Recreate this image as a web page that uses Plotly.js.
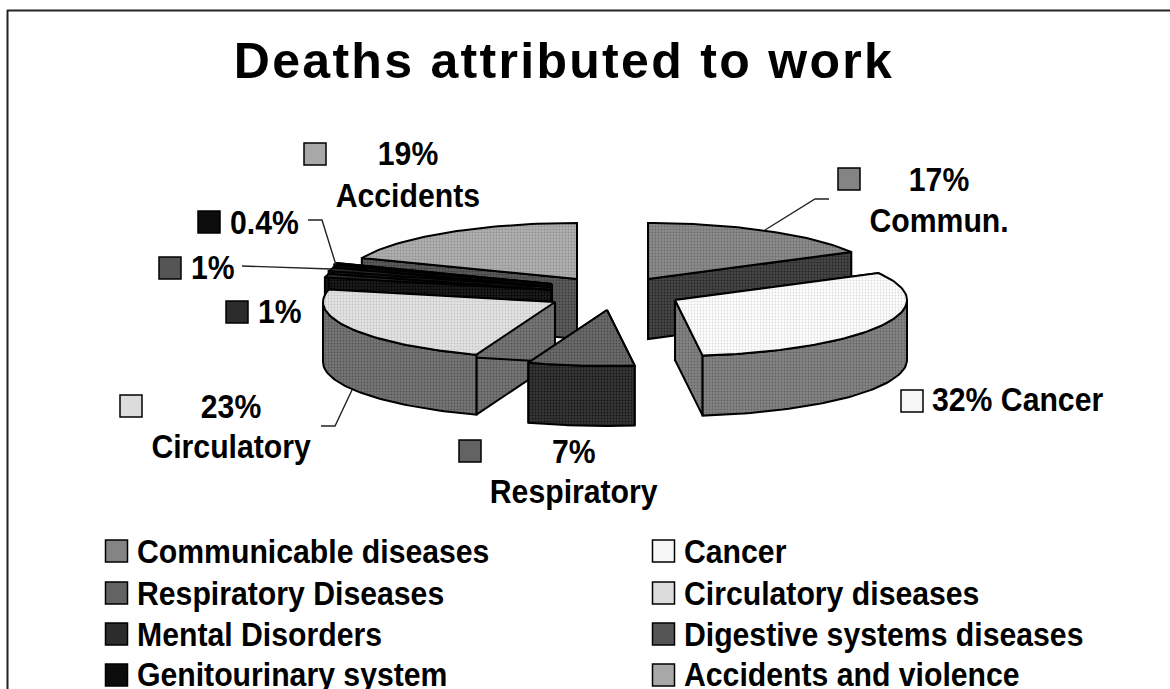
<!DOCTYPE html>
<html><head><meta charset="utf-8">
<script src="https://cdn.plot.ly/plotly-3.0.1.min.js"></script>
<style>html,body{margin:0;padding:0;background:#fff}.gtitle{letter-spacing:2.3px}</style>
</head><body><div id="chart" style="width:1170px;height:689px"></div>
<script>
// ---- data ----
const categories = ["Communicable diseases","Cancer","Respiratory Diseases","Circulatory diseases","Mental Disorders","Digestive systems diseases","Genitourinary system","Accidents and violence"];
const shortNames = ["Commun.","Cancer","Respiratory","Circulatory","","","","Accidents"];
const shares = [17,31.1,7.4,23.1,1,1,0.5,18.9];
const shareLabels = ["17%","32%","7%","23%","1%","1%","0.4%","19%"];
// ---- styling ----
const topColors  = ["#848484","#f6f6f6","#636363","#dcdcdc","#2c2c2c","#2c2c2c","#0c0c0c","#a8a8a8"];
const sideColors = ["#3e3e3e","#7c7c7c","#2e2e2e","#6e6e6e","#141414","#141414","#050505","#545454"];
const swatchColors = ["#848484","#f6f6f6","#636363","#dcdcdc","#2c2c2c","#555555","#0c0c0c","#a8a8a8"];
function shade(hex,d){const v=Math.max(0,Math.min(255,parseInt(hex.slice(1,3),16)+d)).toString(16).padStart(2,"0");return "#"+v+v+v;}
// ---- layout: exploded slice centres, projected ellipse, depth ----
const centres = [[648,279],[675,300],[607,310],[555,302],[551,290],[551,287],[552,284],[577,279]];
const RX=232, RY=56, DEPTH=60;
const drawOrder=[7,6,5,4,3,0,1,2];
const total=shares.reduce((a,b)=>a+b,0);
function pt(c,a,dz){return [c[0]+RX*Math.sin(a), c[1]-RY*Math.cos(a)+(dz||0)];}
const traces=[];
function poly(pts,fill,name){
  const closed=pts.concat([pts[0]]);
  traces.push({type:"scatter",mode:"lines",x:closed.map(p=>p[0]),y:closed.map(p=>p[1]),fill:"toself",fillcolor:fill,
    fillpattern:{shape:".",bgcolor:shade(fill,8),fgcolor:shade(fill,-24),size:3,solidity:0.3},
    line:{color:"#000",width:2,shape:"linear"},name:name,hoverinfo:"name",showlegend:false});
}
let acc=0;const spans=shares.map(s=>{const a0=acc/total*2*Math.PI;acc+=s;return [a0,acc/total*2*Math.PI];});
drawOrder.forEach(i=>{
  const c=centres[i],[a0,a1]=spans[i],n=categories[i];
  [a0,a1].forEach(a=>{const e=pt(c,a);poly([c,e,[e[0],e[1]+DEPTH],[c[0],c[1]+DEPTH]],sideColors[i],n);});
  const lo=Math.max(a0,Math.PI/2),hi=Math.min(a1,1.5*Math.PI);
  if(hi>lo){const up=[],dn=[];const N=48;
    for(let k=0;k<=N;k++){const a=lo+(hi-lo)*k/N;up.push(pt(c,a));dn.unshift(pt(c,a,DEPTH));}
    poly(up.concat(dn),sideColors[i],n);}
  const arc=[c];const N=Math.max(8,Math.round((a1-a0)*40));
  for(let k=0;k<=N;k++)arc.push(pt(c,a0+(a1-a0)*k/N));
  poly(arc,topColors[i],n);
});
// leader lines
const leaders=[[[308,220],[322,220],[336,265]],[[242,266],[331,269]],[[321,426],[335,426],[352,390]],[[765,230],[815,199],[829,199]]];
leaders.forEach(l=>traces.push({type:"scatter",mode:"lines",x:l.map(p=>p[0]),y:l.map(p=>p[1]),line:{color:"#222",width:1.4},hoverinfo:"skip",showlegend:false}));
// swatches
const labelSwatchX=[849,912,470,131,237,170,209,315];
const labelSwatchY=[179,401,451,406,312,268,222,154];
const legendSwatchX=[116.5,663.5,116.5,663.5,116.5,663.5,116.5,663.5];
const legendSwatchY=[551,551,593,593,634,634,675,675];
traces.push({type:"scatter",mode:"markers",x:labelSwatchX.concat(legendSwatchX),y:labelSwatchY.concat(legendSwatchY),
  marker:{symbol:"square",size:22,color:swatchColors.concat(swatchColors),line:{color:"#000",width:1.5}},
  text:categories.concat(categories),hoverinfo:"text",showlegend:false});
const F="'Liberation Sans',Arial,sans-serif";
const NARROW=0.915;
const ann=[];
function txt(s,x,y,anchor){ann.push({text:s,x:x,y:y,xref:"x",yref:"y",showarrow:false,xanchor:anchor,yanchor:"middle",font:{family:F,size:33,weight:700,color:"#000"}});}
txt(shareLabels[0],939,179,"center");txt(shortNames[0],939,220,"center");
txt(shareLabels[1]+" "+shortNames[1],930,399,"left");
txt(shareLabels[2],574,451,"center");txt(shortNames[2],574,491,"center");
txt(shareLabels[3],231,406,"center");txt(shortNames[3],231,446,"center");
txt(shareLabels[4],256,311,"left");txt(shareLabels[5],189,267,"left");txt(shareLabels[6],228,222,"left");
txt(shareLabels[7],408,153,"center");txt(shortNames[7],408,195,"center");
categories.forEach((c,i)=>txt(c,i%2?682:135,[551,551,593,593,634,634,674,674][i],"left"));
Plotly.newPlot("chart",traces,{
  width:1170,height:689,margin:{l:0,r:0,t:0,b:0},paper_bgcolor:"#fff",plot_bgcolor:"#fff",showlegend:false,
  title:{text:"Deaths attributed to work",x:0.482,xanchor:"center",y:0.912,yanchor:"middle",font:{family:F,size:50,weight:700,color:"#000"}},
  xaxis:{range:[0,1170],visible:false,fixedrange:true},
  yaxis:{range:[689,0],visible:false,fixedrange:true},
  annotations:ann,
  shapes:[{type:"line",xref:"x",yref:"y",x0:7.5,x1:7.5,y0:10,y1:689,line:{color:"#222",width:2}},
          {type:"line",xref:"x",yref:"y",x0:7,x1:1170,y0:10.5,y1:10.5,line:{color:"#222",width:2}}]
},{displayModeBar:false,responsive:false}).then(gd=>{
  // narrow the bold face, as the reference's condensed type
  gd.querySelectorAll(".annotation").forEach(g=>{
    const idx=+g.getAttribute("data-index"),t=g.querySelector("text.annotation-text");
    const w=t.getComputedTextLength(),nw=w*NARROW;
    t.setAttribute("textLength",nw.toFixed(1));t.setAttribute("lengthAdjust","spacingAndGlyphs");
    if(ann[idx].xanchor==="left"){t.setAttribute("x",(parseFloat(t.getAttribute("x"))-(w-nw)/2).toFixed(1));}
  });
});
</script></body></html>
